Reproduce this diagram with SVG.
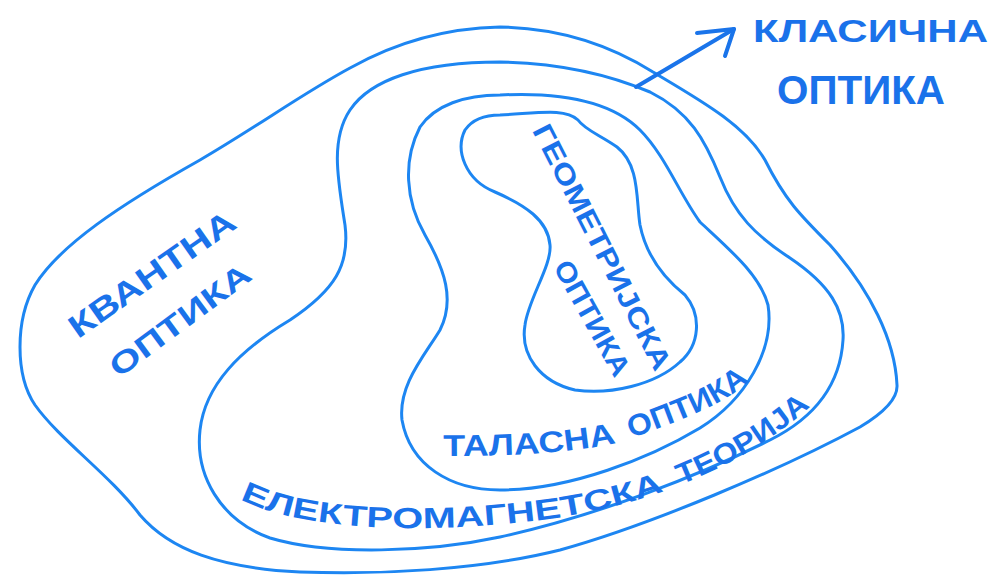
<svg xmlns="http://www.w3.org/2000/svg" width="993" height="576" viewBox="0 0 993 576">
<style>
.ln{fill:none;stroke:#1d86f2;stroke-width:3;stroke-linecap:round;stroke-linejoin:round}
.ar{fill:none;stroke:#1a74ea;stroke-width:4;stroke-linecap:round;stroke-linejoin:round}
.t{font-family:"Liberation Sans","DejaVu Sans",sans-serif;font-weight:bold;fill:#1a72ea}
</style>
<defs>
<path id="p-wave" d="M 443,456 C 520,456 595,452 635,437 C 680,420 725,405 752,378"/>
<path id="p-em" d="M 240,499 C 300,530 420,535 540,520 C 640,508 740,470 812,405"/>
</defs>
<rect width="993" height="576" fill="#ffffff"/>
<g id="quantum-optics">
<path class="ln" d="M 500,27 C 560,28 610,45 653,72 C 700,100 745,125 765,160 C 785,200 800,215 830,245 C 870,290 895,340 897,385 C 898,400 880,415 860,427 C 780,470 650,525 560,550 C 480,570 380,575 300,572 C 220,568 170,550 140,515 C 110,475 60,440 35,405 C 15,375 15,320 35,285 C 60,245 120,205 200,160 C 260,125 300,95 350,68 C 400,40 450,28 500,27 Z"/>
<text class="t" font-size="32" text-anchor="middle" dominant-baseline="central" textLength="196" lengthAdjust="spacingAndGlyphs" transform="translate(152,274) rotate(-35)">КВАНТНА</text>
<text class="t" font-size="30" text-anchor="middle" dominant-baseline="central" textLength="168" lengthAdjust="spacingAndGlyphs" transform="translate(180,320) rotate(-36.5)">ОПТИКА</text>
</g>
<g id="electromagnetic-theory">
<path class="ln" d="M 500,62 C 560,63 610,75 650,92 C 690,112 705,140 720,177 C 735,215 755,235 790,258 C 830,285 845,310 843,340 C 840,390 810,420 770,440 C 700,475 600,515 500,537 C 430,552 330,556 270,538 C 220,520 195,475 200,430 C 205,385 240,350 290,320 C 335,290 350,265 345,225 C 338,180 330,140 350,110 C 370,80 420,62 500,62 Z"/>
<text class="t" font-size="29"><textPath href="#p-em" textLength="432" lengthAdjust="spacingAndGlyphs">ЕЛЕКТРОМАГНЕТСКА</textPath></text>
<text class="t" font-size="29"><textPath href="#p-em" startOffset="450" textLength="152" lengthAdjust="spacingAndGlyphs">ТЕОРИЈА</textPath></text>
</g>
<g id="wave-optics">
<path class="ln" d="M 500,95 C 560,92 610,100 640,130 C 665,155 680,195 700,222 C 730,250 760,275 768,305 C 775,350 745,400 700,428 C 650,458 570,490 500,490 C 450,490 410,465 402,420 C 398,385 425,355 440,330 C 455,300 445,270 425,235 C 405,200 403,160 420,127 C 435,105 465,95 500,95 Z"/>
<text class="t" font-size="30"><textPath href="#p-wave" textLength="174" lengthAdjust="spacingAndGlyphs">ТАЛАСНА</textPath></text>
<text class="t" font-size="30"><textPath href="#p-wave" startOffset="190" textLength="132" lengthAdjust="spacingAndGlyphs">ОПТИКА</textPath></text>
</g>
<g id="geometric-optics">
<path class="ln" d="M 500,115 C 540,113 565,108 578,120 C 585,130 600,135 617,147 C 640,165 636,200 640,225 C 645,250 660,275 685,295 C 702,315 700,345 680,362 C 655,385 610,395 575,390 C 540,382 520,355 525,325 C 528,300 552,265 550,245 C 548,220 525,205 495,192 C 465,180 455,150 465,130 C 472,120 485,115 500,115 Z"/>
<text class="t" font-size="28" text-anchor="middle" dominant-baseline="central" textLength="272" lengthAdjust="spacingAndGlyphs" transform="translate(602,247) rotate(63)">ГЕОМЕТРИЈСКА</text>
<text class="t" font-size="28" text-anchor="middle" dominant-baseline="central" textLength="128" lengthAdjust="spacingAndGlyphs" transform="translate(592,318) rotate(61)">ОПТИКА</text>
</g>
<g id="classical-optics">
<text class="t" x="753" y="42" font-size="31" textLength="235" lengthAdjust="spacingAndGlyphs">КЛАСИЧНА</text>
<text class="t" x="777" y="104" font-size="40" textLength="168" lengthAdjust="spacingAndGlyphs">ОПТИКА</text>
</g>
<g id="connectors">
<path class="ar" d="M 636,87 L 734,29"/>
<path class="ar" d="M 697,33 L 734,29 L 725,56"/>
</g>
</svg>
